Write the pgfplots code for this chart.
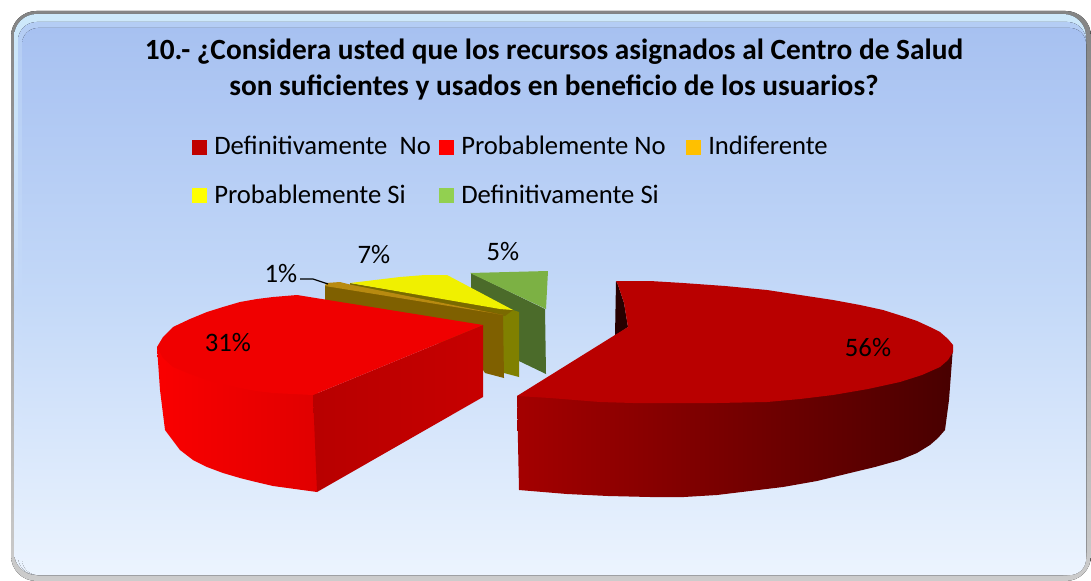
\documentclass[border=0pt]{standalone}
\usepackage{fontspec}
\setmainfont{Carlito}
\usepackage{pgfplots}
\pgfplotsset{compat=1.18}
\definecolor{bgtop}{HTML}{A7C1F1}
\definecolor{bgmid}{HTML}{C4D9F8}
\definecolor{bgbot}{HTML}{ECF4FE}
\definecolor{bevel}{HTML}{CDE8FA}
\definecolor{bevelb}{HTML}{B4CDF4}
\definecolor{darkred}{HTML}{C00000}
\definecolor{gold}{HTML}{FFC000}
\definecolor{lgreen}{HTML}{92D050}
\definecolor{greenwall}{HTML}{4B6B2A}
\definecolor{pureyellow}{HTML}{FFFF00}
\definecolor{yellowtop}{HTML}{F0F000}
\definecolor{yellowwall}{HTML}{808000}
\definecolor{yellowstripe}{HTML}{7A6A00}
\definecolor{goldwall}{HTML}{7F6000}
\definecolor{goldtop}{HTML}{B88A10}
\definecolor{dtop}{HTML}{B90000}
\definecolor{dwa}{HTML}{A40000}
\definecolor{dwb}{HTML}{800000}
\definecolor{dwc}{HTML}{480000}
\newcommand{\lab}[3]{\node[anchor=base,font=\fontsize{20pt}{22pt}\selectfont,inner sep=0pt] at (axis cs:#1,#2) {#3};}
\newcommand{\leg}[3]{\node[anchor=base west,font=\fontsize{20pt}{22pt}\selectfont,inner sep=0pt] at (axis cs:#1,#2) {#3};}
\begin{document}
\begin{tikzpicture}
\begin{axis}[hide axis,scale only axis,x=0.75pt,y=0.75pt,y dir=reverse,
  xmin=0,xmax=1091,ymin=0,ymax=581,clip=false,anchor=south west,at={(0,0)}]
% panel
\fill[white] (axis cs:0,0) rectangle (axis cs:1091,581);
\fill[top color=black!48,bottom color=black!20,rounded corners=19pt] (axis cs:11,11) rectangle (axis cs:1091,581);
\fill[top color=bevel,bottom color=bgbot,middle color=bgmid,rounded corners=17pt] (axis cs:14,14) rectangle (axis cs:1086,575);
\fill[top color=bevelb,bottom color=bgbot,middle color=bgmid,rounded corners=14pt] (axis cs:18,22) rectangle (axis cs:1086,575);
\fill[top color=bgtop,bottom color=bgbot,middle color=bgmid,rounded corners=12pt] (axis cs:22,28) rectangle (axis cs:1086,575);
% green
\addplot[fill=greenwall,draw=none] coordinates {(471,273)(545,309)(546,374)(471,338)} -- cycle;
\addplot[fill=lgreen!85!black,draw=none] coordinates {(470,273)(548,271)(546,309)} -- cycle;
% yellow
\addplot[fill=yellowwall,draw=none] coordinates {(350,284)(513,310)(519,312)(519,377)(504,373)(490,360)} -- cycle;
\addplot[fill=yellowstripe,draw=none] coordinates {(350,283)(513,310)(505,316)(350,288)} -- cycle;
\addplot[fill=yellowtop,draw=none] coordinates {(350,283)(375,280)(400,277)(425,275)(447,275)(513,310)(500,309)} -- cycle;
% gold
\addplot[fill=goldwall,draw=none] coordinates {(325,285)(492,312)(503,315)(504,378)(485,373)(470,350)(325,320)} -- cycle;
\addplot[fill=goldtop,draw=none] coordinates {(326,283)(340,282)(352,285)(503,315)(492,313)(325,286)} -- cycle;
% bright red
\addplot[draw=none,left color=red!98!black,right color=red!88!black] coordinates {(157,347)(160,390)(165,430)(180,450)(193,460)(207,467)(223,473)(240,478)(256,482)(273,486)(295,489)(317,492)(318,385)} -- cycle;
\addplot[draw=none,left color=red!72!black,right color=red!78!black] coordinates {(313,395)(483,325)(483,397)(317,492)} -- cycle;
\addplot[fill=red!94!black,draw=none] coordinates {(157,347)(163,337)(173,327)(190,319)(207,312)(223,307)(240,302)(257,299)(273,297)(285,296)(297,295)(483,325)(313,395)(293,394)(273,393)(256,391)(240,388)(223,384)(207,380)(190,374)(173,367)(163,358)} -- cycle;
% dark red
\addplot[draw=none,fill=black!80!darkred] coordinates {(616,281)(615,336)(628,327)(626,315)(624,303)(618,285)} -- cycle;
\addplot[draw=none,left color=dwa,middle color=dwb,right color=dwc] coordinates {(517,396)(519,490)(543,492)(567,494)(608,496)(650,497)(684,497)(717,495)(750,491)(783,487)(817,481)(850,473)(875,467)(900,460)(917,453)(930,445)(938,438)(945,430)(949,400)(953,347)} -- cycle;
\addplot[fill=dtop,draw=none] coordinates {(616,281)(650,281)(683,283)(725,286)(767,290)(800,295)(833,300)(860,305)(883,310)(902,316)(917,321)(930,327)(940,332)(948,339)(953,345)(953,352)(948,360)(940,367)(922,375)(900,382)(868,389)(833,395)(800,399)(767,402)(717,403)(667,403)(633,403)(600,402)(575,400)(550,398)(517,396)(615,335)(628,327)(626,315)(624,303)(618,285)} -- cycle;
% leader line of the 1% label
\addplot[black,line width=0.9pt] coordinates {(300,279)(313,279)(328,284)};
% legend swatches
\addplot[fill=darkred,draw=none] coordinates {(192,140)(207,140)(207,155)(192,155)} -- cycle;
\addplot[fill=red,draw=none] coordinates {(439,140)(454,140)(454,155)(439,155)} -- cycle;
\addplot[fill=gold,draw=none] coordinates {(686,140)(701,140)(701,155)(686,155)} -- cycle;
\addplot[fill=pureyellow,draw=none] coordinates {(192,188)(207,188)(207,203)(192,203)} -- cycle;
\addplot[fill=lgreen,draw=none] coordinates {(439,188)(454,188)(454,203)(439,203)} -- cycle;
\leg{214}{155}{Definitivamente\ \ No}
\leg{461}{155}{Probablemente No}
\leg{708}{155}{Indiferente}
\leg{214}{203}{Probablemente Si}
\leg{461}{203}{Definitivamente Si}
% title
\node[anchor=base,font=\bfseries\fontsize{22pt}{24pt}\selectfont,inner sep=0pt] at (axis cs:554,60) {10.- ¿Considera usted que los recursos asignados al Centro de Salud};
\node[anchor=base,font=\bfseries\fontsize{22pt}{24pt}\selectfont,inner sep=0pt] at (axis cs:554,96) {son suficientes y usados en beneficio de los usuarios?};
% data labels
\lab{281}{282}{1\%}
\lab{374}{263}{7\%}
\lab{503}{260}{5\%}
\lab{228}{351}{31\%}
\lab{868}{356}{56\%}
\end{axis}
\end{tikzpicture}
\end{document}
